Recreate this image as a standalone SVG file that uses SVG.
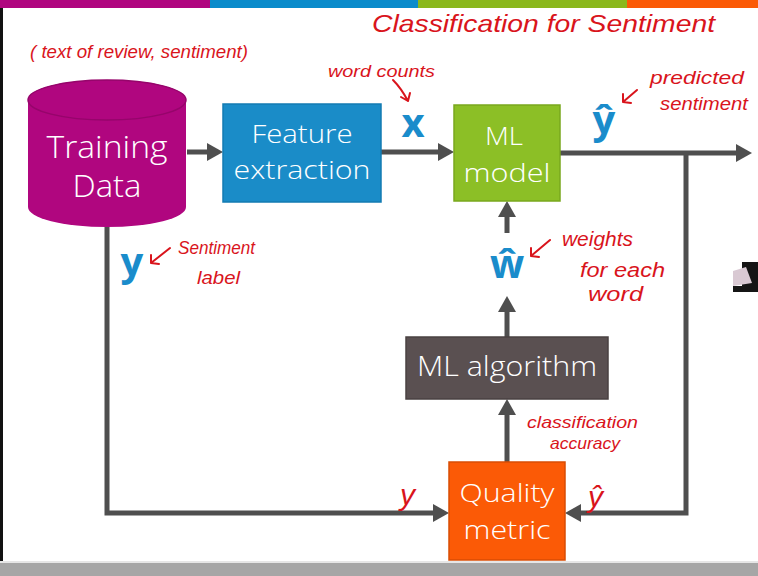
<svg xmlns="http://www.w3.org/2000/svg" width="758" height="576" viewBox="0 0 758 576">
<defs>
<style>
.lbl{font-family:"Open Sans",Lato,"Liberation Sans",sans-serif;font-weight:300;fill:#ffffff;text-anchor:middle}
.var{font-family:"Open Sans",Lato,"Liberation Sans",sans-serif;font-weight:700;fill:#1a8ccb;text-anchor:middle}
.hw{font-family:"Liberation Sans","DejaVu Sans",sans-serif;fill:#d9141c;font-style:italic}
.conn{fill:none;stroke:#4f4f4f;stroke-width:5;stroke-linejoin:miter}
.red{fill:none;stroke:#d9141c;stroke-width:2;stroke-linecap:round;stroke-linejoin:round}
</style>
<marker id="ah" markerUnits="userSpaceOnUse" viewBox="0 0 16 18" markerWidth="16" markerHeight="18" refX="6" refY="9" orient="auto">
<path d="M0,0 L16,9 L0,18 z" fill="#4f4f4f"/>
</marker>
</defs>
<rect x="0" y="0" width="758" height="576" fill="#ffffff"/>
<!-- top colour bar -->
<rect x="0" y="0" width="210" height="8" fill="#b0067f"/>
<rect x="210" y="0" width="208" height="8" fill="#0a8bcb"/>
<rect x="418" y="0" width="209" height="8" fill="#8ab81c"/>
<rect x="627" y="0" width="131" height="8" fill="#fb5a06"/>
<!-- left black strip and bottom gray bar -->
<rect x="0" y="8" width="3" height="555" fill="#111111"/>
<rect x="0" y="561" width="758" height="2" fill="#e6e6e6"/>
<rect x="0" y="563" width="758" height="13" fill="#a6a6a6"/>
<!-- right edge object -->
<rect x="742" y="262" width="16" height="30" fill="#151515"/>
<polygon points="733,271 746,267 752,283 733,286" fill="#d9c9d3"/>
<rect x="733" y="286" width="25" height="6" fill="#151515"/>

<g id="connectors">
<line class="conn" x1="187" y1="152" x2="213" y2="152" marker-end="url(#ah)"/>
<line class="conn" x1="381" y1="152" x2="444" y2="152" marker-end="url(#ah)"/>
<line class="conn" x1="560" y1="153" x2="742" y2="153" marker-end="url(#ah)"/>
<polyline class="conn" points="686,153 686,513 575,513" marker-end="url(#ah)"/>
<polyline class="conn" points="107,225 107,513 439,513" marker-end="url(#ah)"/>
<line class="conn" x1="507" y1="462" x2="507" y2="409" marker-end="url(#ah)"/>
<line class="conn" x1="507" y1="337" x2="507" y2="306" marker-end="url(#ah)"/>
<line class="conn" x1="507" y1="233" x2="507" y2="211" marker-end="url(#ah)"/>
</g>

<g id="training-data">
<path d="M28,100 L28,207 A79,20 0 0 0 186,207 L186,100 A79,20 0 0 0 28,100 z" fill="#b0067f"/>
<ellipse cx="107" cy="100" rx="79" ry="20" fill="#b0067f" stroke="#96056b" stroke-width="1.5"/>
<text class="lbl" x="107" y="158" font-size="31" textLength="121" lengthAdjust="spacingAndGlyphs">Training</text>
<text class="lbl" x="107" y="197" font-size="31" textLength="69" lengthAdjust="spacingAndGlyphs">Data</text>
</g>

<g id="feature-extraction">
<rect x="223" y="104" width="158" height="98" fill="#1a8cc8" stroke="#137bb2" stroke-width="1.5"/>
<text class="lbl" x="302" y="143" font-size="26" textLength="101" lengthAdjust="spacingAndGlyphs">Feature</text>
<text class="lbl" x="302" y="179" font-size="26" textLength="137" lengthAdjust="spacingAndGlyphs">extraction</text>
</g>

<g id="ml-model">
<rect x="454" y="105" width="106" height="96" fill="#8cbf26" stroke="#79a81e" stroke-width="1.5"/>
<text class="lbl" x="504" y="145" font-size="26" textLength="38" lengthAdjust="spacingAndGlyphs">ML</text>
<text class="lbl" x="507" y="182" font-size="26" textLength="87" lengthAdjust="spacingAndGlyphs">model</text>
</g>

<g id="ml-algorithm">
<rect x="406" y="337" width="202" height="62" fill="#5a5051" stroke="#4a4142" stroke-width="1.5"/>
<text class="lbl" x="507" y="376" font-size="27" textLength="180" lengthAdjust="spacingAndGlyphs">ML algorithm</text>
</g>

<g id="quality-metric">
<rect x="449" y="462" width="116" height="98" fill="#fb5a06" stroke="#d94d05" stroke-width="1.5"/>
<text class="lbl" x="507" y="502" font-size="26" textLength="95" lengthAdjust="spacingAndGlyphs">Quality</text>
<text class="lbl" x="507" y="539" font-size="26" textLength="87" lengthAdjust="spacingAndGlyphs">metric</text>
</g>

<g id="variables">
<text class="var" x="413" y="137" font-size="40">x</text>
<text class="var" x="604" y="134" font-size="40">ŷ</text>
<text class="var" x="507" y="278" font-size="40">ŵ</text>
<text class="var" x="132" y="276" font-size="40">y</text>
</g>

<g id="annotations">
<text class="hw" x="372" y="32" font-size="24" textLength="343" lengthAdjust="spacingAndGlyphs">Classification for Sentiment</text>
<text class="hw" x="30" y="58" font-size="18" textLength="218" lengthAdjust="spacingAndGlyphs">( text of review, sentiment)</text>
<text class="hw" x="328" y="77" font-size="17" textLength="107" lengthAdjust="spacingAndGlyphs">word counts</text>
<path class="red" d="M393,80 Q401,88 408,101 M401,97 L408,101 L410,93"/>
<text class="hw" x="650" y="84" font-size="19" textLength="94" lengthAdjust="spacingAndGlyphs">predicted</text>
<text class="hw" x="660" y="110" font-size="19" textLength="88" lengthAdjust="spacingAndGlyphs">sentiment</text>
<path class="red" d="M637,90 L623,102 M623,94 L623,102 L631,103"/>
<text class="hw" x="178" y="254" font-size="18" textLength="77" lengthAdjust="spacingAndGlyphs">Sentiment</text>
<text class="hw" x="197" y="284" font-size="18" textLength="43" lengthAdjust="spacingAndGlyphs">label</text>
<path class="red" d="M170,248 L151,263 M151,255 L151,263 L159,264"/>
<text class="hw" x="562" y="246" font-size="20" textLength="71" lengthAdjust="spacingAndGlyphs">weights</text>
<text class="hw" x="580" y="277" font-size="20" textLength="85" lengthAdjust="spacingAndGlyphs">for each</text>
<text class="hw" x="588" y="301" font-size="20" textLength="55" lengthAdjust="spacingAndGlyphs">word</text>
<path class="red" d="M550,240 L531,256 M531,248 L531,256 L539,257"/>
<text class="hw" x="527" y="428" font-size="17" textLength="111" lengthAdjust="spacingAndGlyphs">classification</text>
<text class="hw" x="550" y="449" font-size="17" textLength="70" lengthAdjust="spacingAndGlyphs">accuracy</text>
<text class="hw" x="400" y="505" font-size="30">y</text>
<text class="hw" x="588" y="507" font-size="30">ŷ</text>
</g>
</svg>
